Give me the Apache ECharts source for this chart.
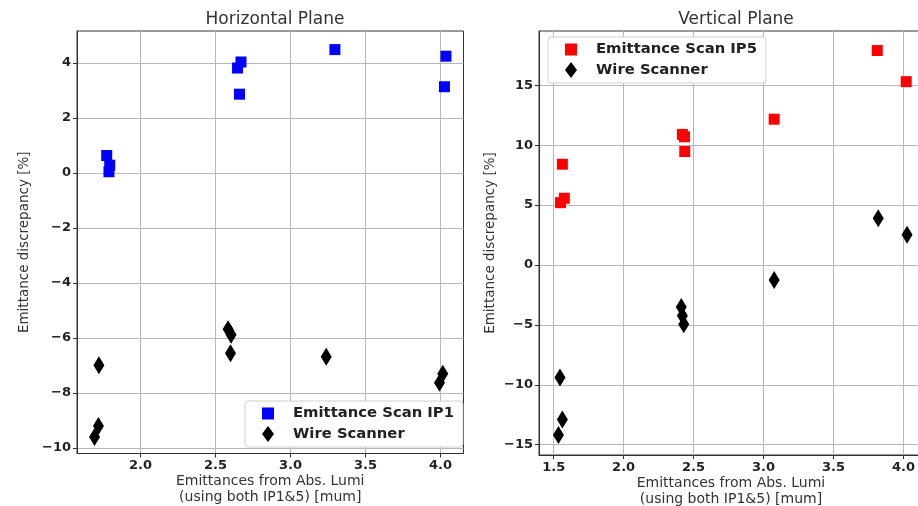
<!DOCTYPE html>
<html>
<head>
<meta charset="utf-8">
<script src="https://cdn.jsdelivr.net/npm/echarts@6/dist/echarts.min.js"></script>
<style>html,body{margin:0;padding:0;background:#fff}#c{width:918px;height:506px}</style>
</head>
<body>
<div id="c"></div>
<script>
// ---- data ----
const ip1X = [1.775, 1.795, 1.790, 2.670, 2.647, 2.660, 3.296, 4.036, 4.026];
const ip1Y = [0.63, 0.28, 0.04, 4.03, 3.81, 2.86, 4.48, 4.24, 3.13];
const wireHX = [1.723, 1.720, 1.694, 2.584, 2.604, 2.600, 3.238, 4.015, 3.993];
const wireHY = [-6.99, -9.20, -9.60, -5.68, -5.88, -6.56, -6.68, -7.30, -7.63];
const ip5X = [3.813, 4.020, 3.076, 2.420, 2.435, 2.437, 1.562, 1.576, 1.549];
const ip5Y = [17.9, 15.3, 12.17, 10.9, 10.7, 9.47, 8.41, 5.57, 5.2];
const wireVX = [3.820, 4.026, 3.076, 2.412, 2.420, 2.430, 1.545, 1.562, 1.534];
const wireVY = [3.9, 2.53, -1.26, -3.5, -4.24, -4.95, -9.4, -12.9, -14.2];
const hXTicks = [2.0, 2.5, 3.0, 3.5, 4.0];
const hYTicks = [-10, -8, -6, -4, -2, 0, 2, 4];
const vXTicks = [1.5, 2.0, 2.5, 3.0, 3.5, 4.0];
const vYTicks = [-15, -10, -5, 0, 5, 10, 15];
const titles = ['Horizontal Plane', 'Vertical Plane'];
const xName = 'Emittances from Abs. Lumi\n(using both IP1&5) [mum]';
const yName = 'Emittance discrepancy [%]';

const zip = (a, b) => a.map((v, i) => [v, b[i]]);
const FONT = 'DejaVu Sans';
const SQ = 'path://M0,0H10V10H0Z';
const minus = s => String(s).replace('-', '\u2212');

function xAxisCfg(grid, min, max, ticks) {
  return {
    type: 'value', gridIndex: grid, min: min, max: max,
    name: xName, nameLocation: 'middle', nameGap: 20, nameMoveOverlap: false,
    nameTextStyle: {fontFamily: FONT, fontSize: 14, color: '#333', lineHeight: 16},
    axisLine: {show: true, onZero: false, lineStyle: {color: '#333', width: 1}},
    axisTick: {show: true, length: 4, customValues: ticks, lineStyle: {color: '#333'}},
    axisLabel: {customValues: ticks, margin: 6, fontFamily: FONT, fontWeight: 'bold', fontSize: 13, color: '#222',
      formatter: v => minus(v.toFixed(1))},
    splitLine: {show: true, lineStyle: {color: '#b8b8b8', width: 1}}
  };
}
function yAxisCfg(grid, min, max, ticks, gap) {
  return {
    type: 'value', gridIndex: grid, min: min, max: max,
    name: yName, nameLocation: 'middle', nameRotate: 90, nameGap: gap, nameMoveOverlap: false,
    nameTextStyle: {fontFamily: FONT, fontSize: 13.5, color: '#333'},
    axisLine: {show: true, onZero: false, lineStyle: {color: '#333', width: 1}},
    axisTick: {show: true, length: 4, customValues: ticks, lineStyle: {color: '#333'}},
    axisLabel: {customValues: ticks, margin: 6, fontFamily: FONT, fontWeight: 'bold', fontSize: 13, color: '#222',
      formatter: v => minus(Math.round(v))},
    splitLine: {show: true, lineStyle: {color: '#b8b8b8', width: 1}}
  };
}
function legendCfg(left, top, names) {
  return {
    left: left, top: top, orient: 'vertical',
    backgroundColor: '#fff', borderColor: '#d0d0d0', borderWidth: 1, borderRadius: 3,
    padding: [5, 9, 5, 17], itemGap: 5, itemWidth: 12, itemHeight: 16,
    textStyle: {fontFamily: FONT, fontWeight: 'bold', fontSize: 14.8, color: '#222', padding: [0, 0, 0, 14]},
    data: [{name: names[0], icon: SQ}, {name: names[1], icon: 'diamond'}],
    selectedMode: false
  };
}
function sq(name, x, y, ax, color) {
  return {type: 'scatter', name: name, xAxisIndex: ax, yAxisIndex: ax, data: zip(x, y),
    symbol: SQ, symbolKeepAspect: true, symbolSize: 11, itemStyle: {color: color, opacity: 1}, z: 3};
}
function dm(name, x, y, ax) {
  return {type: 'scatter', name: name, xAxisIndex: ax, yAxisIndex: ax, data: zip(x, y),
    symbol: 'diamond', symbolSize: [11, 18], itemStyle: {color: '#000', opacity: 1}, z: 3};
}

const chart = echarts.init(document.getElementById('c'), null, {renderer: 'canvas'});
chart.setOption({
  animation: false,
  backgroundColor: '#fff',
  title: [
    {text: titles[0], left: 270, top: 6, textAlign: 'center',
      textStyle: {fontFamily: FONT, fontWeight: 'normal', fontSize: 17, color: '#333'}},
    {text: titles[1], left: 731, top: 6, textAlign: 'center',
      textStyle: {fontFamily: FONT, fontWeight: 'normal', fontSize: 17, color: '#333'}}
  ],
  grid: [
    {left: 77, width: 386.5, top: 31, bottom: 52.5, show: true, borderColor: '#333', borderWidth: 1,
      backgroundColor: 'transparent', outerBoundsMode: 'none', containLabel: false},
    {left: 539, width: 384, top: 31, bottom: 51, show: true, borderColor: '#333', borderWidth: 1,
      backgroundColor: 'transparent', outerBoundsMode: 'none', containLabel: false}
  ],
  xAxis: [xAxisCfg(0, 1.577, 4.153, hXTicks), xAxisCfg(1, 1.395, 4.14, vXTicks)],
  yAxis: [yAxisCfg(0, -10.2, 5.156, hYTicks, 46), yAxisCfg(1, -15.86, 19.53, vYTicks, 42)],
  legend: [
    legendCfg(245, 401, ['Emittance Scan IP1', 'Wire Scanner']),
    legendCfg(548, 37, ['Emittance Scan IP5', 'Wire Scanner'])
  ],
  series: [
    sq('Emittance Scan IP1', ip1X, ip1Y, 0, '#0000ff'),
    dm('Wire Scanner', wireHX, wireHY, 0),
    sq('Emittance Scan IP5', ip5X, ip5Y, 1, '#ff0000'),
    dm('Wire Scanner', wireVX, wireVY, 1)
  ]
});
</script>
</body>
</html>
